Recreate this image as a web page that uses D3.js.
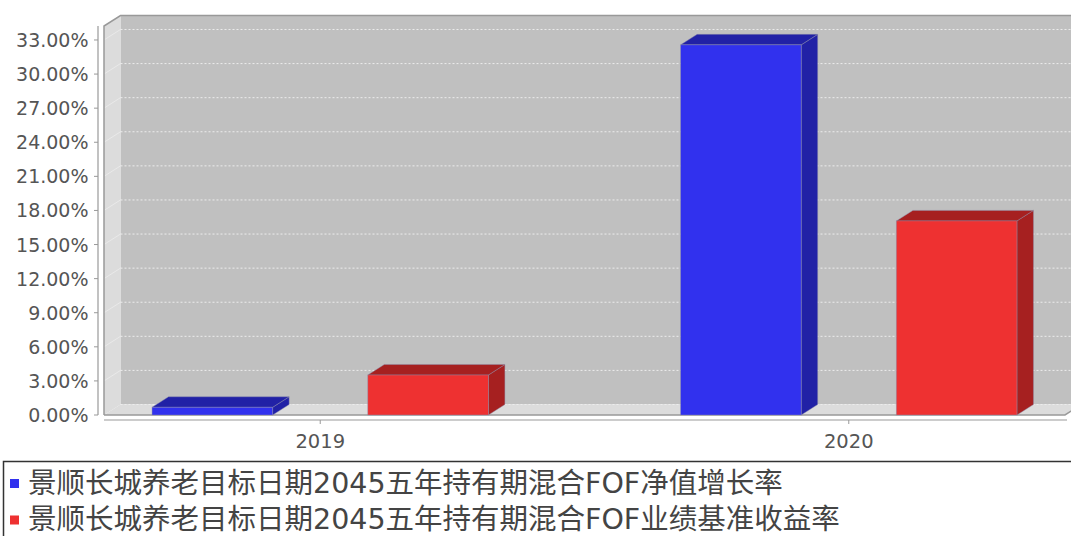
<!DOCTYPE html>
<html>
<head>
<meta charset="utf-8">
<script src="https://cdn.jsdelivr.net/npm/d3@7"></script>
<style>
  html, body { margin: 0; padding: 0; background: #fff; overflow: hidden; }
  svg { display: block; }
</style>
</head>
<body>
<svg id="chart" width="1071" height="536"></svg>
<script>
// values (percent)
const categories = ['2019', '2020'];
const seriesNames = [
  '景顺长城养老目标日期2045五年持有期混合FOF净值增长率',
  '景顺长城养老目标日期2045五年持有期混合FOF业绩基准收益率'
];
const navGrowth = [0.68, 32.57];
const benchmarkReturn = [3.52, 17.08];
const yTicks = [0, 3, 6, 9, 12, 15, 18, 21, 24, 27, 30, 33];

const seriesColors = [
  { front: '#3131ee', dark: '#2121a6' },
  { front: '#ee3131', dark: '#a62020' }
];

const width = 1071;
const plot = { left: 104, right: 1065, top: 26, bottom: 415 };
const dx = 16.5, dy = 10.5; // 3D depth offset

const svg = d3.select('#chart');

// scales
const x = d3.scaleBand()
  .domain(categories)
  .range([plot.left, plot.right])
  .paddingInner(0.2 / 0.55)
  .paddingOuter(0.05 / 0.55);

const xInner = d3.scaleBand()
  .domain([0, 1])
  .range([0, x.bandwidth()])
  .paddingInner(0.441);

const y = d3.scaleLinear()
  .domain([0, 34.23])
  .range([plot.bottom, plot.top]);

// walls
svg.append('rect')
  .attr('x', plot.left + dx)
  .attr('y', plot.top - dy)
  .attr('width', width - plot.left)
  .attr('height', plot.bottom - plot.top)
  .attr('fill', '#c0c0c0');

svg.append('polygon')
  .attr('points', [[plot.left, plot.top], [plot.left + dx, plot.top - dy],
    [plot.left + dx, plot.bottom - dy], [plot.left, plot.bottom]].join(' '))
  .attr('fill', '#dcdcdc');

svg.append('polygon')
  .attr('points', [[plot.left, plot.bottom], [plot.left + dx, plot.bottom - dy],
    [plot.right + dx, plot.bottom - dy], [plot.right, plot.bottom]].join(' '))
  .attr('fill', '#dcdcdc');

// gridlines on back wall and left wall
const grid = svg.append('g');
grid.selectAll('line.back')
  .data(yTicks)
  .enter().append('line')
  .attr('class', 'back')
  .attr('x1', plot.left + dx)
  .attr('x2', width)
  .attr('y1', d => y(d) - dy)
  .attr('y2', d => y(d) - dy)
  .attr('stroke', '#ececec')
  .attr('stroke-width', 1)
  .attr('stroke-dasharray', '2,2');
grid.selectAll('line.side')
  .data(yTicks.slice(1))
  .enter().append('line')
  .attr('class', 'side')
  .attr('x1', plot.left)
  .attr('x2', plot.left + dx)
  .attr('y1', d => y(d))
  .attr('y2', d => y(d) - dy)
  .attr('stroke', '#f2f2f2')
  .attr('stroke-opacity', 0.6)
  .attr('stroke-width', 1);

// plot outline
svg.append('path')
  .attr('d', `M${plot.left},${plot.bottom} L${plot.left},${plot.top} L${plot.left + dx},${plot.top - dy} L${width},${plot.top - dy}`)
  .attr('fill', 'none')
  .attr('stroke', '#999')
  .attr('stroke-width', 1.5);
svg.append('path')
  .attr('d', `M${plot.left},${plot.bottom} L${plot.right},${plot.bottom} L${plot.right + dx},${plot.bottom - dy}`)
  .attr('fill', 'none')
  .attr('stroke', '#999')
  .attr('stroke-width', 1.5);

// bars
const barData = [];
categories.forEach((c, i) => {
  [navGrowth[i], benchmarkReturn[i]].forEach((v, s) => barData.push({ c, s, v }));
});

const bars = svg.append('g').selectAll('g')
  .data(barData)
  .enter().append('g');

bars.each(function (d) {
  const g = d3.select(this);
  const x0 = x(d.c) + xInner(d.s);
  const x1 = x0 + xInner.bandwidth();
  const yt = y(d.v), yb = y(0);
  const col = seriesColors[d.s];
  const edge = 'rgba(140,140,170,0.55)';
  g.append('polygon')
    .attr('points', [[x1, yt], [x1 + dx, yt - dy], [x1 + dx, yb - dy], [x1, yb]].join(' '))
    .attr('fill', col.dark).attr('stroke', edge).attr('stroke-width', 0.8);
  g.append('polygon')
    .attr('points', [[x0, yt], [x0 + dx, yt - dy], [x1 + dx, yt - dy], [x1, yt]].join(' '))
    .attr('fill', col.dark).attr('stroke', edge).attr('stroke-width', 0.8);
  g.append('rect')
    .attr('x', x0).attr('y', yt)
    .attr('width', x1 - x0).attr('height', yb - yt)
    .attr('fill', col.front).attr('stroke', edge).attr('stroke-width', 0.8);
});

// y axis
const yAxis = svg.append('g').attr('transform', 'translate(98,0)');
yAxis.append('line')
  .attr('x1', 0).attr('x2', 0)
  .attr('y1', plot.top).attr('y2', plot.bottom)
  .attr('stroke', '#999').attr('stroke-width', 1.2);
const yt = yAxis.selectAll('g.tick')
  .data(yTicks)
  .enter().append('g')
  .attr('class', 'tick')
  .attr('transform', d => `translate(0,${y(d)})`);
yt.append('line')
  .attr('x1', -4).attr('x2', 0)
  .attr('stroke', '#999');
yt.append('text')
  .attr('x', -9.5)
  .attr('y', 7)
  .attr('text-anchor', 'end')
  .attr('font-family', '"DejaVu Sans", sans-serif')
  .attr('font-size', 19)
  .attr('fill', '#555')
  .text(d => d.toFixed(2) + '%');

// x axis
const xAxis = svg.append('g');
xAxis.append('line')
  .attr('x1', plot.left).attr('x2', plot.right + 2)
  .attr('y1', 420).attr('y2', 420)
  .attr('stroke', '#999').attr('stroke-width', 1.2);
const xt = xAxis.selectAll('g.tick')
  .data(categories)
  .enter().append('g')
  .attr('transform', d => `translate(${x(d) + x.bandwidth() / 2},420)`);
xt.append('line').attr('y1', 0).attr('y2', 4).attr('stroke', '#999');
xt.append('text')
  .attr('y', 28)
  .attr('text-anchor', 'middle')
  .attr('font-family', '"DejaVu Sans", sans-serif')
  .attr('font-size', 19.5)
  .attr('fill', '#555')
  .text(d => d);

// legend
const legend = svg.append('g');
legend.append('rect')
  .attr('x', 3.5).attr('y', 461.5)
  .attr('width', 1080).attr('height', 90)
  .attr('fill', '#fff')
  .attr('stroke', '#333')
  .attr('stroke-width', 1.5);
const items = legend.selectAll('g.item')
  .data(seriesNames)
  .enter().append('g')
  .attr('transform', (d, i) => `translate(0,${i * 36.5})`);
items.append('rect')
  .attr('x', 10).attr('y', 479)
  .attr('width', 9).attr('height', 9)
  .attr('fill', (d, i) => seriesColors[i].front);
items.append('text')
  .attr('x', 28).attr('y', 492.5)
  .attr('font-family', '"DejaVu Sans", "Noto Sans CJK SC", sans-serif')
  .attr('font-size', 28.5)
  .attr('fill', '#444')
  .text(d => d);
</script>
</body>
</html>
